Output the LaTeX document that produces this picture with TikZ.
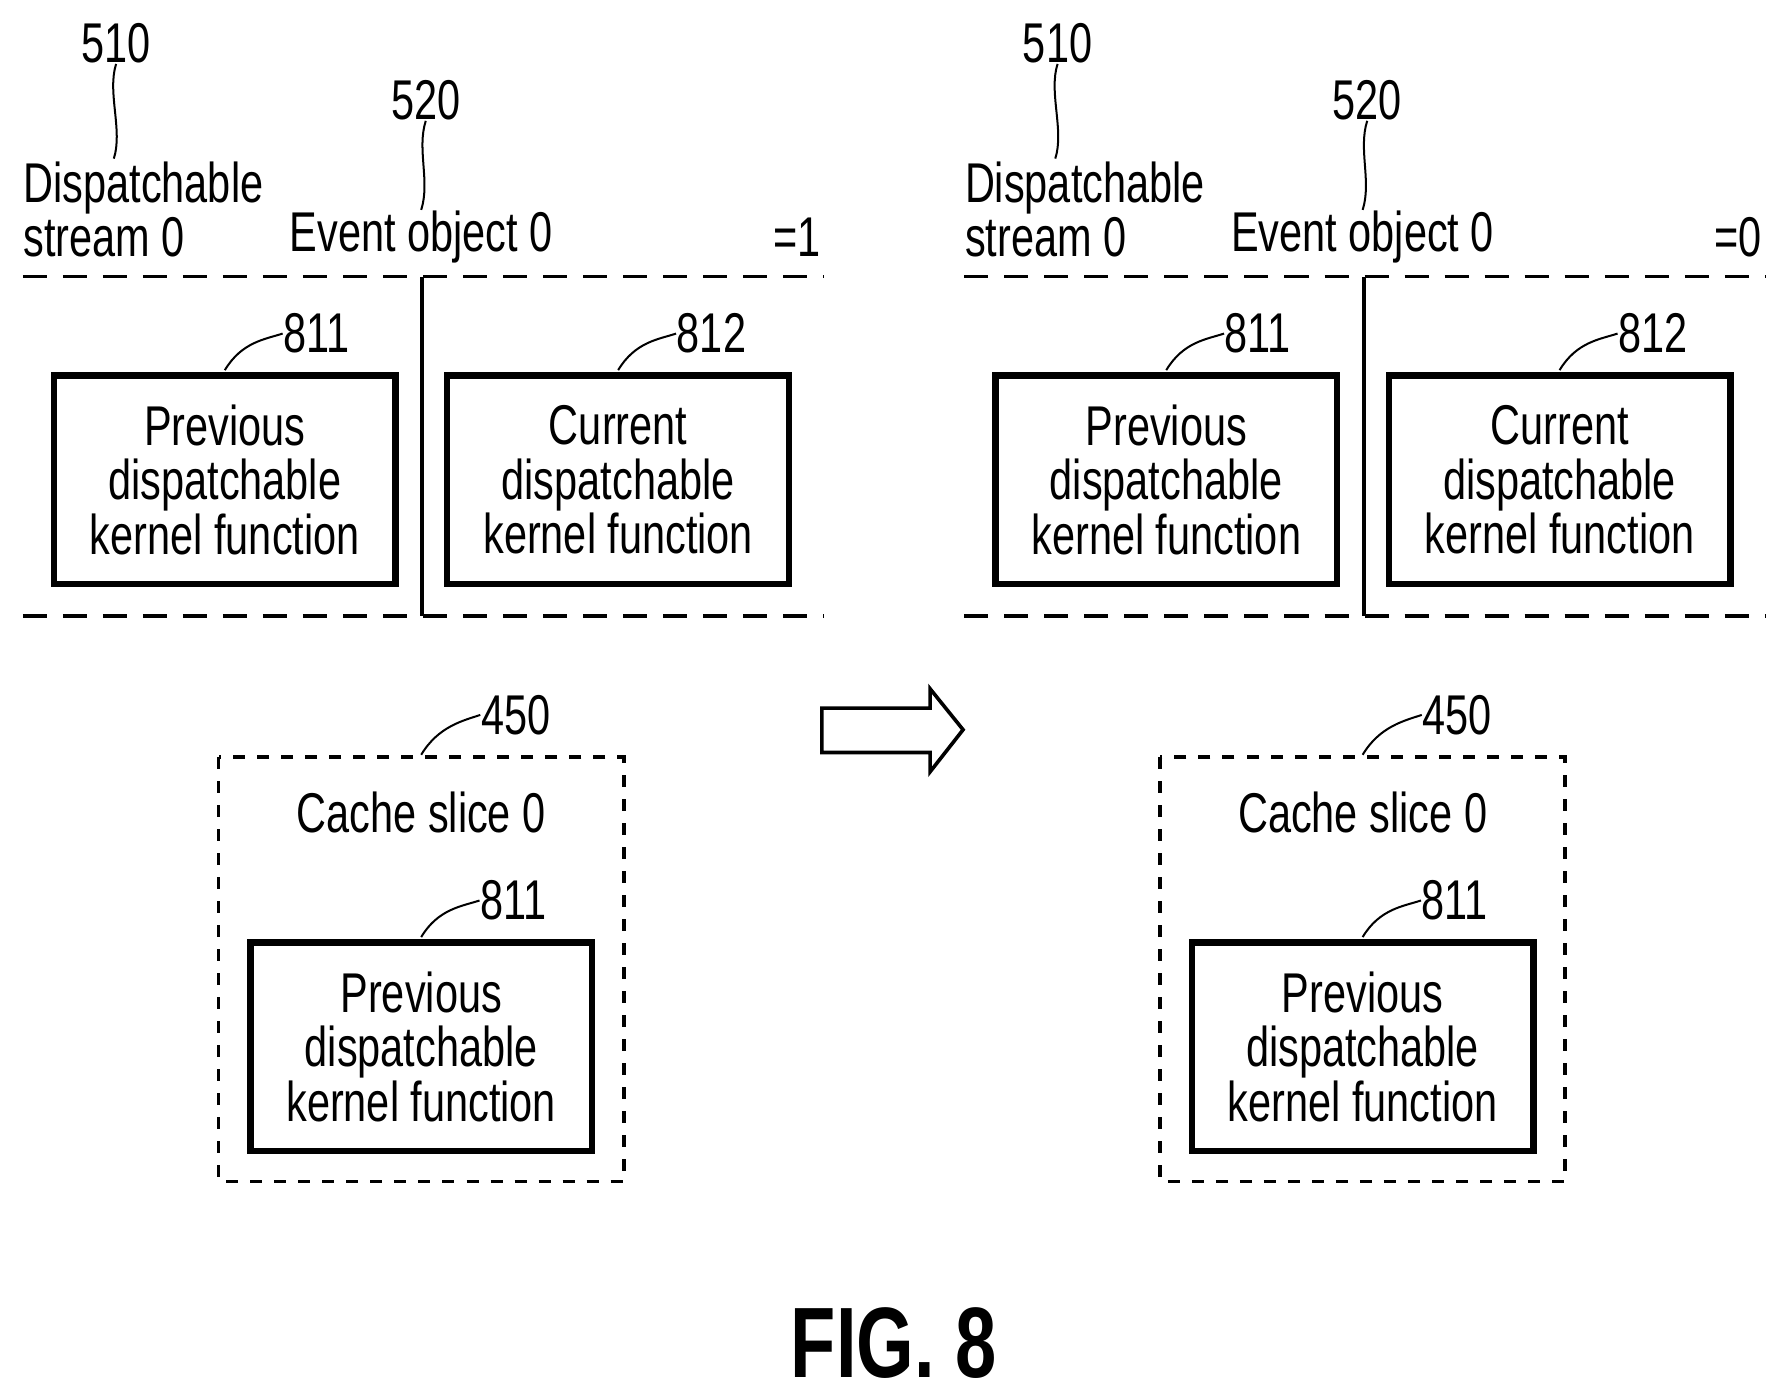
\documentclass[tikz,border=0pt]{standalone}
\usepackage{fontspec}
\setmainfont{Liberation Sans}[FakeStretch=0.74]
\usetikzlibrary{calc}
\usetikzlibrary{arrows.meta}

\tikzset{
  txt/.style={font=\fontsize{14}{13.6}\selectfont, inner sep=0pt},
  fbox/.style={draw, line width=1.6pt, minimum width=3.0cm, minimum height=1.83cm, align=center, txt},
  cbox/.style={draw, dashed, line width=0.9pt},
  lead/.style={line width=0.5pt},
  sep/.style={line width=0.9pt, dash pattern=on 6pt off 4pt}
}

\begin{document}
\begin{tikzpicture}[x=0.01cm,y=-0.01cm]
\useasboundingbox (0,0) rectangle (1568,1229);

\foreach \dx/\val/\p in {0/1/a, 827/0/b} {
\begin{scope}[xshift=\dx*0.01cm]
% stream and event labels
\node[txt] (n510\p) at (102,38) {510};
\node[txt, align=left, anchor=west] (str\p) at (20,184) {Dispatchable\\stream 0};
\node[txt] (n520\p) at (374,88) {520};
\node[txt] (evt\p) at (370,208) {Event object 0};
\node[txt] (val\p) at (700,208) {=\val};
\draw[lead] (n510\p.south) .. controls +(-8,25) and +(8,-25) .. ($(str\p.north west)+(80,-2)$);
\draw[lead] (n520\p.south) .. controls +(-8,25) and +(8,-25) .. (evt\p.north);
% stream band
\coordinate (tl\p) at (20,243);
\coordinate (tr\p) at (724,243);
\coordinate (bl\p) at (20,541);
\coordinate (br\p) at (724,541);
\draw[sep] (tl\p) -- (tr\p);
\draw[sep] (bl\p) -- (br\p);
\draw[line width=1pt] (371,243) -- (371,541);
\node[fbox] (prev\p) at (197.5,421.5) {Previous\\dispatchable\\kernel function};
\node[fbox] (cur\p) at (543,421.5) {Current\\dispatchable\\kernel function};
\node[txt] (n811\p) at (278,293) {811};
\node[txt] (n812\p) at (625,293) {812};
\draw[lead] (prev\p.north) ++(0,-2) .. controls +(15,-25) and +(-15,5) .. (n811\p.west);
\draw[lead] (cur\p.north) ++(0,-2) .. controls +(15,-25) and +(-15,5) .. (n812\p.west);
% cache slice
\draw[cbox] (192,665) rectangle (548,1038);
\coordinate (cache\p) at (370,665);
\node[txt] (n450\p) at (453,628) {450};
\node[txt] (cs\p) at (370,714) {Cache slice 0};
\node[fbox] (cprev\p) at (370,919.5) {Previous\\dispatchable\\kernel function};
\node[txt] (n811c\p) at (451,791) {811};
\draw[lead] (cache\p) ++(0,-2) .. controls +(15,-25) and +(-15,5) .. (n450\p.west);
\draw[lead] (cprev\p.north) ++(0,-2) .. controls +(15,-25) and +(-15,5) .. (n811c\p.west);
\end{scope}
}

% transition arrow
\draw[line width=0.9pt, line join=miter] (722,622) -- (817,622) -- (817,605) -- (846,641)
  -- (817,678) -- (817,661) -- (722,661) -- cycle;

\node[font=\fontsize{25}{25}\selectfont\bfseries, inner sep=0pt] (fig) at (785,1180) {FIG. 8};
\end{tikzpicture}
\end{document}
